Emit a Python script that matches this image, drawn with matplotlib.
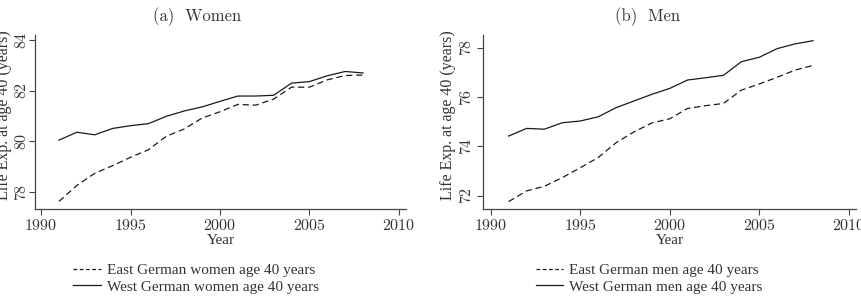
import matplotlib
matplotlib.use("Agg")
import matplotlib.pyplot as plt
from matplotlib.lines import Line2D

years = list(range(1991, 2009))

women_east = [77.63, 78.26, 78.74, 79.04, 79.37, 79.67, 80.20, 80.49, 80.92, 81.17,
              81.46, 81.43, 81.67, 82.14, 82.14, 82.43, 82.60, 82.62]
women_west = [80.05, 80.36, 80.26, 80.51, 80.62, 80.70, 80.99, 81.20, 81.36, 81.58,
              81.79, 81.79, 81.82, 82.30, 82.36, 82.59, 82.76, 82.70]
men_east = [71.77, 72.20, 72.39, 72.74, 73.14, 73.55, 74.15, 74.59, 74.95, 75.12,
            75.54, 75.65, 75.74, 76.28, 76.53, 76.80, 77.09, 77.28]
men_west = [74.42, 74.73, 74.70, 74.96, 75.03, 75.20, 75.57, 75.84, 76.11, 76.35,
            76.69, 76.78, 76.88, 77.43, 77.61, 77.96, 78.15, 78.28]

x_ticks = [1990, 1995, 2000, 2005, 2010]
women_yticks = [78, 80, 82, 84]
men_yticks = [72, 74, 76, 78]

titles = ["(a)  Women", "(b)  Men"]
ylabels = ["Life Exp. at age 40 (years)", "Life Exp. at age 40 (years)"]
legend_labels = [["East German women age 40 years", "West German women age 40 years"],
                 ["East German men age 40 years", "West German men age 40 years"]]

plt.rcParams['axes.formatter.use_mathtext'] = True
TXT = '#333333'
LINE = '#1a1a1a'
SERIF = ['Liberation Serif', 'DejaVu Serif']
CM = ['cmr10', 'DejaVu Serif']

fig = plt.figure(figsize=(8.61, 3.0), dpi=100)
W, H = 861, 300

def px_axes(l, r, t, b):
    return fig.add_axes([l / W, 1 - b / H, (r - l) / W, (b - t) / H])

ax1 = px_axes(35, 406, 35, 209)
ax2 = px_axes(483, 856, 35, 209)

panels = [
    (ax1, women_east, women_west, women_yticks, (77.33, 84.2), (1989.66, 2010.4),
     0.0, (-0.062, 0.54), 0.0865),
    (ax2, men_east, men_west, men_yticks, (71.47, 78.51), (1989.57, 2010.4),
     2.0, (-0.072, 0.54), 0.125),
]

for i, (ax, east, west, yt, ylim, xlim, ypad, ylab_pos, leg_x) in enumerate(panels):
    ax.plot(years, east, color=LINE, lw=0.9, linestyle=(0, (5, 3)))
    ax.plot(years, west, color=LINE, lw=0.9)
    ax.set_xlim(*xlim)
    ax.set_ylim(*ylim)
    ax.set_xticks(x_ticks)
    ax.set_yticks(yt)
    for s in ['top', 'right']:
        ax.spines[s].set_visible(False)
    for s in ['left', 'bottom']:
        ax.spines[s].set_color('#444444')
        ax.spines[s].set_linewidth(0.9)
    ax.tick_params(direction='out', length=4.5, width=0.8, color='#444444',
                   labelcolor=TXT, labelsize=11.5, pad=2)
    ax.tick_params(axis='y', pad=ypad)
    for lab in ax.get_xticklabels():
        lab.set_fontfamily(CM)
    for lab in ax.get_yticklabels():
        lab.set_fontfamily(CM)
        lab.set_rotation(90)
        lab.set_va('center')
    ax.set_xlabel("Year", fontsize=11, family=SERIF, color=TXT, labelpad=1)
    ax.set_ylabel(ylabels[i], fontsize=11.5, family=SERIF, color=TXT)
    ax.yaxis.set_label_coords(*ylab_pos)

    handles = [Line2D([], [], color=LINE, lw=0.9, linestyle=(0, (3, 2))),
               Line2D([], [], color=LINE, lw=0.9)]
    leg = ax.legend(handles, legend_labels[i], loc='upper left',
                    bbox_to_anchor=(leg_x, -0.277), frameon=False,
                    prop={'family': SERIF, 'size': 11}, handlelength=1.8,
                    handletextpad=0.4, labelspacing=0.2, borderaxespad=0)
    for t in leg.get_texts():
        t.set_color(TXT)

fig.text(197 / W, 1 - 17 / H, titles[0], ha='center', va='center',
         fontsize=12, family=CM, color=TXT)
fig.text(648 / W, 1 - 17 / H, titles[1], ha='center', va='center',
         fontsize=12, family=CM, color=TXT)

fig.savefig("out.png", dpi=100)
